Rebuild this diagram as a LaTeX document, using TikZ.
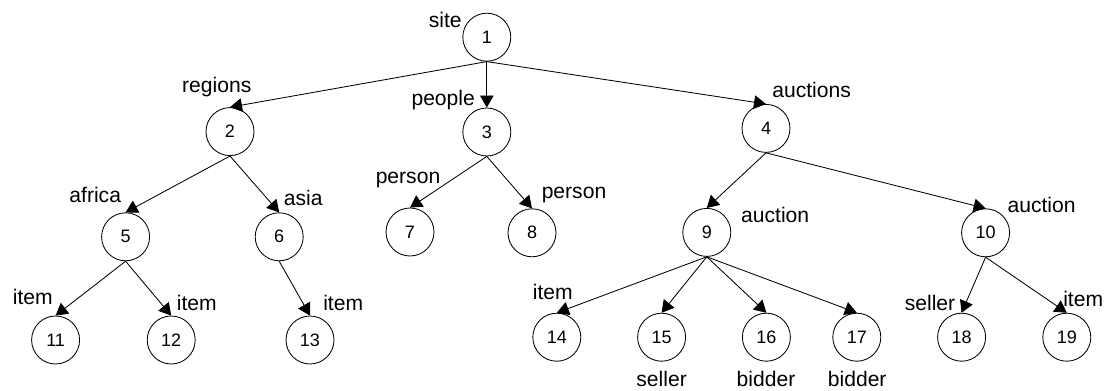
\documentclass[tikz,border=0pt]{standalone}
\usepackage{fontspec}
\setmainfont{Liberation Sans}
\usetikzlibrary{arrows.meta}

\begin{document}
\begin{tikzpicture}[
	vertex/.style={draw, circle, minimum size=1.2cm, inner sep=0pt, line width=0.6pt, font=\fontsize{12.8}{15}\selectfont},
	tag/.style={inner sep=0pt, font=\fontsize{15}{18}\selectfont},
	edge/.style={-{Triangle[length=3mm,width=3.4mm]}, line width=0.6pt}
]
		\useasboundingbox (0,0) rectangle (27.725,9.75);
		% tree nodes
		\node[vertex] (n1) at (12.17,8.82) {1};
		\node[vertex] (n2) at (5.75,6.46) {2};
		\node[vertex] (n3) at (12.17,6.45) {3};
		\node[vertex] (n4) at (19.15,6.54) {4};
		\node[vertex] (n5) at (3.14,3.83) {5};
		\node[vertex] (n6) at (6.98,3.83) {6};
		\node[vertex] (n7) at (10.25,3.95) {7};
		\node[vertex] (n8) at (13.30,3.93) {8};
		\node[vertex] (n9) at (17.67,3.94) {9};
		\node[vertex] (n10) at (24.64,3.93) {10};
		\node[vertex] (n11) at (1.39,1.25) {11};
		\node[vertex] (n12) at (4.28,1.25) {12};
		\node[vertex] (n13) at (7.75,1.25) {13};
		\node[vertex] (n14) at (13.92,1.32) {14};
		\node[vertex] (n15) at (16.54,1.32) {15};
		\node[vertex] (n16) at (19.16,1.32) {16};
		\node[vertex] (n17) at (21.42,1.32) {17};
		\node[vertex] (n18) at (24.04,1.32) {18};
		\node[vertex] (n19) at (26.67,1.32) {19};
		% element names
		\node[tag] (t1) at (11.13,9.25) {site};
		\node[tag] (t2) at (5.42,7.58) {regions};
		\node[tag] (t3) at (11.08,7.25) {people};
		\node[tag] (t4) at (20.29,7.5) {auctions};
		\node[tag] (t5) at (2.38,4.88) {africa};
		\node[tag] (t6) at (7.58,4.8) {asia};
		\node[tag] (t7) at (10.2,5.25) {person};
		\node[tag] (t8) at (14.35,4.88) {person};
		\node[tag] (t9) at (19.38,4.38) {auction};
		\node[tag] (t10) at (26.04,4.63) {auction};
		\node[tag] (t11) at (0.82,2.33) {item};
		\node[tag] (t12) at (4.92,2.18) {item};
		\node[tag] (t13) at (8.58,2.18) {item};
		\node[tag] (t14) at (13.82,2.44) {item};
		\node[tag] (t15) at (16.54,0.28) {seller};
		\node[tag] (t16) at (19.15,0.28) {bidder};
		\node[tag] (t17) at (21.43,0.28) {bidder};
		\node[tag] (t18) at (23.25,2.18) {seller};
		\node[tag] (t19) at (27.08,2.28) {item};
		% parent -> child
		\draw[edge] (n1.south) -- (n2.north);
		\draw[edge] (n1.south) -- (n3.north);
		\draw[edge] (n1.south) -- (n4.north);
		\draw[edge] (n2.south) -- (n5.north);
		\draw[edge] (n2.south) -- (n6.north);
		\draw[edge] (n3.south) -- (n7.north);
		\draw[edge] (n3.south) -- (n8.north);
		\draw[edge] (n4.south) -- (n9.north);
		\draw[edge] (n4.south) -- (n10.north);
		\draw[edge] (n5.south) -- (n11.north);
		\draw[edge] (n5.south) -- (n12.north);
		\draw[edge] (n6.south) -- (n13.north);
		\draw[edge] (n9.south) -- (n14.north);
		\draw[edge] (n9.south) -- (n15.north);
		\draw[edge] (n9.south) -- (n16.north);
		\draw[edge] (n9.south) -- (n17.north);
		\draw[edge] (n10.south) -- (n18.north);
		\draw[edge] (n10.south) -- (n19.north);
	\end{tikzpicture}
\end{document}
